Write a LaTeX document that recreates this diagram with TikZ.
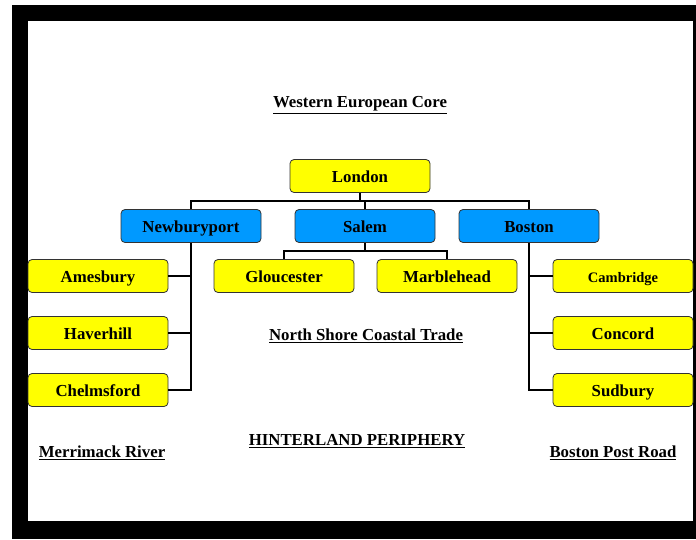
\documentclass[tikz,border=0pt]{standalone}
\usepackage{fontspec}
\setmainfont{Liberation Serif}
\usepackage{xcolor}
\usetikzlibrary{positioning,calc}
\definecolor{hubblue}{HTML}{0099FF}
\definecolor{townyellow}{HTML}{FFFF00}
\definecolor{boxedge}{HTML}{333333}

\begin{document}
\begin{tikzpicture}[
  x=1pt,y=-1pt,
  every node/.style={font=\bfseries\fontsize{16.8}{19}\selectfont,align=center},
  town/.style={rounded corners=4pt,draw=boxedge,fill=townyellow,line width=0.8pt,
               minimum width=140pt,minimum height=33pt,inner sep=0pt,
               text height=14.5pt,text depth=1pt},
  hub/.style={town,fill=hubblue},
  conn/.style={line width=1.8pt,draw=black},
  region/.style={font=\bfseries\fontsize{16.8}{19}\selectfont,
                 text height=14.5pt,text depth=1pt}
]
\useasboundingbox (0,0) rectangle (696,539);
\fill[black] (12,5) rectangle (696,539);
\fill[white] (28,21) rectangle (693,521);

\node[town] (london) at (360,176) {London};
\node[hub] (newb) at (191,226) {Newburyport};
\node[hub] (salem) at (365,226) {Salem};
\node[hub] (boston) at (529,226) {Boston};
\node[town] (ames) at (98,276) {Amesbury};
\node[town] (haver) at (98,333) {Haverhill};
\node[town] (chelm) at (98,390) {Chelmsford};
\node[town] (glouc) at (284,276) {Gloucester};
\node[town] (marble) at (447,276) {Marblehead};
\node[town,font=\bfseries\fontsize{14.5}{16}\selectfont] (camb) at (623,276) {Cambridge};
\node[town] (conc) at (623,333) {Concord};
\node[town] (sudb) at (623,390) {Sudbury};

\coordinate (jl) at (360,201);
\coordinate (js) at (365,251);
\draw[conn] (london) -- (jl);
\draw[conn] (newb.north) |- (jl) -| (boston.north);
\draw[conn] (salem.north) -- (salem.north |- jl);
\draw[conn] (salem) -- (js);
\draw[conn] (glouc.north) |- (js) -| (marble.north);
\draw[conn] (newb.south) |- (chelm.east);
\draw[conn] (ames.east) -- (ames.east -| newb.south);
\draw[conn] (haver.east) -- (haver.east -| newb.south);
\draw[conn] (boston.south) |- (sudb.west);
\draw[conn] (camb.west) -- (camb.west -| boston.south);
\draw[conn] (conc.west) -- (conc.west -| boston.south);

\node[region] (core) at (360,101) {\underline{Western European Core}};
\node[region] (coast) at (366,334) {\underline{North Shore Coastal Trade}};
\node[region] (hinter) at (357,439) {\underline{HINTERLAND PERIPHERY}};
\node[region] (merr) at (102,451) {\underline{Merrimack River}};
\node[region] (postrd) at (613,451) {\underline{Boston Post Road}};
\end{tikzpicture}
\end{document}
